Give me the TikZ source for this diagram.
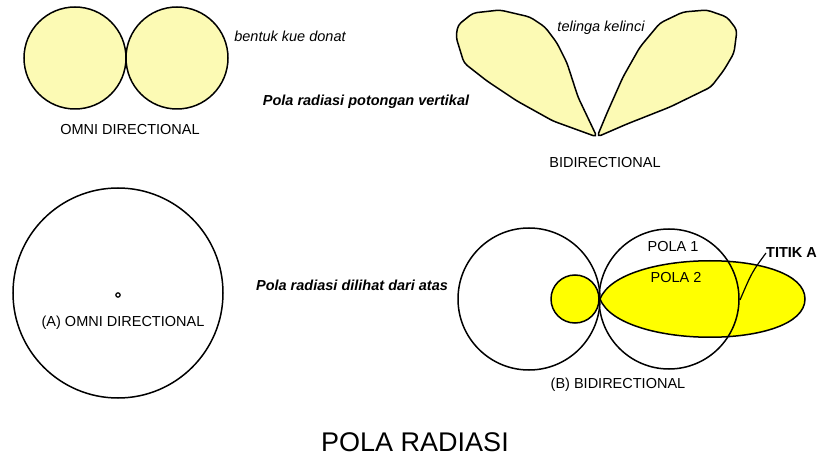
\documentclass[tikz,border=0pt]{standalone}
\usepackage{fontspec}
\setmainfont{Liberation Sans}
\definecolor{paleyel}{RGB}{252,250,180}
\definecolor{brightyel}{RGB}{255,255,0}
\tikzset{
  outl/.style={draw=black, line width=1.5pt},
  lbl/.style={inner sep=0pt, font=\fontsize{14.5}{16}\selectfont},
  itl/.style={inner sep=0pt, font=\fontsize{14.5}{16}\selectfont\itshape},
  bitl/.style={inner sep=0pt, font=\fontsize{14.5}{16}\selectfont\bfseries\itshape},
  bld/.style={inner sep=0pt, font=\fontsize{14.5}{16}\selectfont\bfseries},
}
\begin{document}
\begin{tikzpicture}[x=1pt,y=-1pt]
\useasboundingbox (0,0) rectangle (828,457);
% top left: omni (vertical cut)
\draw[outl, fill=paleyel] (75,58) circle (51);
\draw[outl, fill=paleyel] (177,58) circle (51);
\node[itl] (donat) at (290,36) {bentuk kue donat};
\node[lbl] (omni) at (130,130) {OMNI DIRECTIONAL};
\node[bitl] (vert) at (366,102) {Pola radiasi potongan vertikal};
% top right: bidirectional lobes
\draw[outl, fill=paleyel, rounded corners=4pt]
  (597,137) -- (578,97) -- (567,63) -- (557,43) -- (545,27) -- (530,17)
  -- (500,10) -- (473,13) -- (458,25) -- (456,37) -- (464,63) -- (487,81)
  -- (517,101) -- (553,121) -- cycle;
\draw[outl, fill=paleyel, rounded corners=4pt]
  (597,137) -- (607,113) -- (623,77) -- (640,47) -- (660,23) -- (683,12)
  -- (707,10) -- (727,17) -- (737,30) -- (734,53) -- (724,70) -- (711,87)
  -- (670,107) -- (627,124) -- cycle;
\node[itl] (kelinci) at (601,28) {telinga kelinci};
\node[lbl] (bidir) at (605,163) {BIDIRECTIONAL};
% bottom left: omni from above
\draw[outl] (118,293) circle (105);
\draw[line width=1.2pt] (118,295) circle (2.2);
\node[lbl] (omniA) at (123,323) {(A) OMNI DIRECTIONAL};
\node[bitl] (atas) at (352,285) {Pola radiasi dilihat dari atas};
% bottom right: bidirectional from above
\draw[outl, fill=brightyel] (575,299) circle (24);
\draw[outl, fill=brightyel] (600,299) .. controls (620,248) and (805,248) .. (805,299)
  .. controls (805,350) and (620,350) .. (600,299);
\draw[outl] (529,299) circle (71);
\draw[outl] (669,299) circle (70);
\node[lbl] (pola1) at (673,247) {POLA 1};
\node[lbl] (pola2) at (676,278) {POLA 2};
\node[bld, anchor=west] (titik) at (766,253) {TITIK A};
\coordinate (ptA) at (740,300);
\draw[line width=1.2pt] (titik.west) .. controls (752,272) .. (ptA);
\node[lbl] (bidirB) at (618,385) {(B) BIDIRECTIONAL};
% title
\node[inner sep=0pt, font=\fontsize{27}{30}\selectfont] (title) at (415,442) {POLA RADIASI};
\end{tikzpicture}
\end{document}
